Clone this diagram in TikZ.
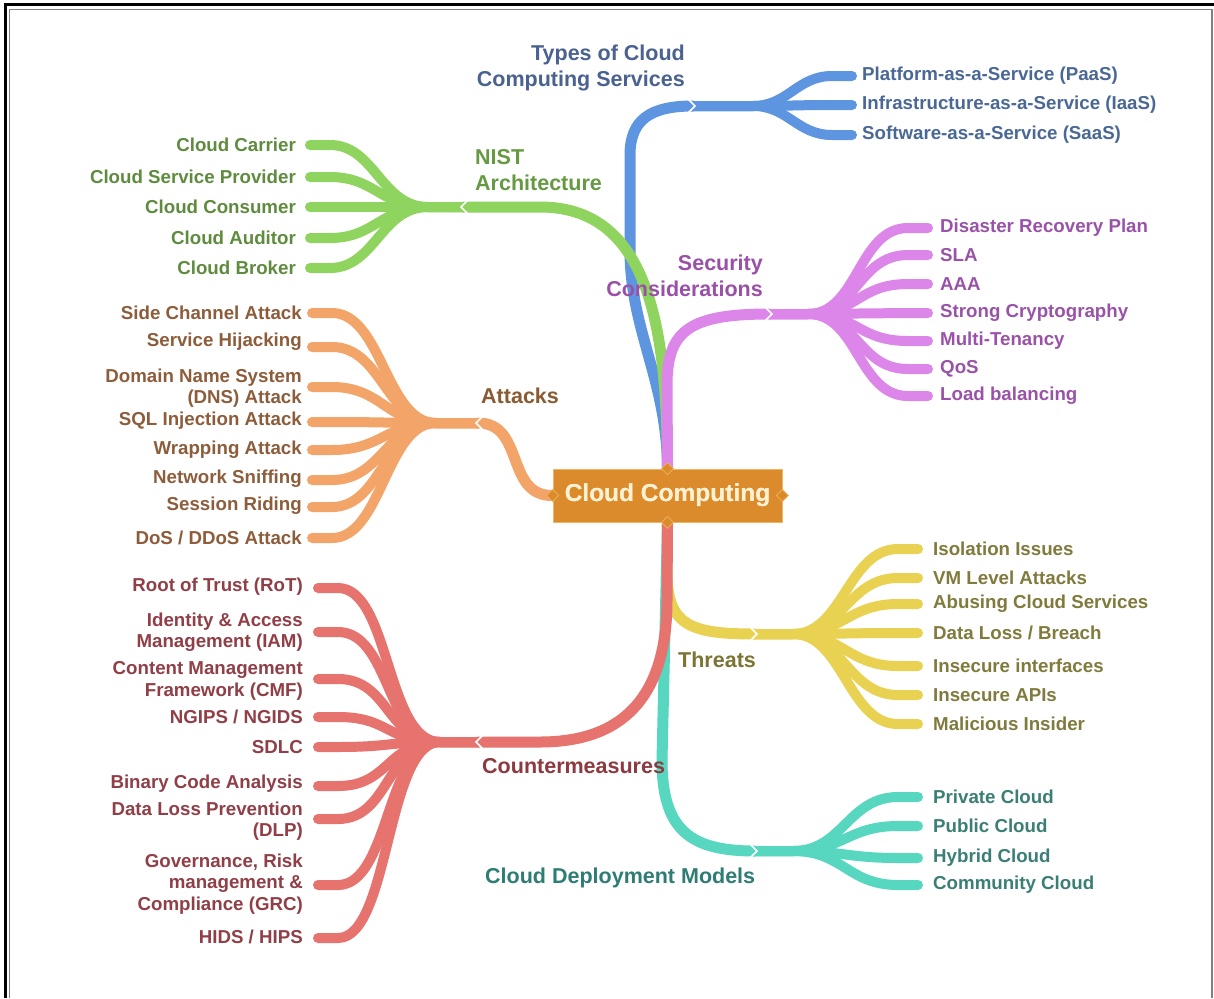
\documentclass[tikz,border=0pt]{standalone}
\usepackage{fontspec}
\setmainfont{Liberation Sans}
\usetikzlibrary{calc}
\pgfdeclarelayer{bg}
\pgfsetlayers{bg,main}
\definecolor{cBlue}{HTML}{5E95E0}\definecolor{tBlue}{HTML}{4A6896}\definecolor{hBlue}{HTML}{4A6290}
\definecolor{cGreen}{HTML}{8ED45E}\definecolor{tGreen}{HTML}{5E8B3E}\definecolor{hGreen}{HTML}{669A42}
\definecolor{cPurple}{HTML}{DD86EA}\definecolor{tPurple}{HTML}{9A52A9}\definecolor{hPurple}{HTML}{9A50A8}
\definecolor{cOrange}{HTML}{F3A468}\definecolor{tOrange}{HTML}{8D5D3B}\definecolor{hOrange}{HTML}{8A5A32}
\definecolor{cRed}{HTML}{E7736F}\definecolor{tRed}{HTML}{903F47}\definecolor{hRed}{HTML}{8C3A40}
\definecolor{cYellow}{HTML}{E9D251}\definecolor{tYellow}{HTML}{807A3D}\definecolor{hYellow}{HTML}{7D7434}
\definecolor{cTeal}{HTML}{57D7BF}\definecolor{tTeal}{HTML}{3A7E76}\definecolor{hTeal}{HTML}{2E7D74}
\definecolor{cCenter}{HTML}{DB8B2B}\definecolor{cCenterB}{HTML}{EFB560}\definecolor{cCenterT}{HTML}{FFF1D2}
\begin{document}
\begin{tikzpicture}[x=1pt,y=-1pt,
  branch/.style={line width=11pt, line cap=round},
  subbranch/.style={line width=10pt, line cap=round, line join=round},
  leaf/.style={inner sep=0pt, font=\fontsize{18.7}{21.5}\selectfont\bfseries},
  topic/.style={inner sep=0pt, font=\fontsize{21.5}{26}\selectfont\bfseries},
  notchline/.style={draw=white, line width=1.6pt},
]
\useasboundingbox (0,0) rectangle (1214,998);
\begin{pgfonlayer}{bg}
\fill[white] (0,0) rectangle (1214,998);
\end{pgfonlayer}
% frame
\draw[line width=3pt] (5,998) -- (5,5) -- (1214,5);
\draw[gray, line width=1.5pt] (9.5,998) -- (9.5,9.5) -- (1212,9.5) -- (1212,998);

% central node
\node[fill=cCenter, draw=cCenterB, line width=0.8pt, minimum width=229pt, minimum height=53pt,
      inner sep=0pt, text=cCenterT, font=\fontsize{24.5}{28}\selectfont\bfseries] (cc) at (667.5,495.5) {Cloud Computing};
\foreach \a in {north,south,west,east}{
  \fill[cCenter, draw=cCenterB, line width=0.6pt] ($(cc.\a)+(-6,0)$) -- ($(cc.\a)+(0,-6)$) -- ($(cc.\a)+(6,0)$) -- ($(cc.\a)+(0,6)$) -- cycle;
}
\node[text=cCenterT, font=\fontsize{24.5}{28}\selectfont\bfseries, inner sep=0pt] (cctext) at (cc.center) {Cloud Computing};

% notch coordinates
\coordinate (typesN) at (693,106);
\coordinate (nistN) at (463,207);
\coordinate (secN) at (770,314);
\coordinate (attN) at (478,423);
\coordinate (cmN) at (478,742);
\coordinate (thrN) at (755,634);
\coordinate (depN) at (755,851);

\begin{pgfonlayer}{bg}
% ---- Types of cloud computing services (blue)
\draw[branch, cBlue] (cc.north) .. controls (667,380) and (630,330) .. (630,250) -- (630,155) .. controls (630,120) and (650,106) .. (typesN);
\foreach \y [count=\i] in {76,105,135}{
  \coordinate (types-e\i) at (852,\y);
  \draw[subbranch, cBlue] (typesN) -- ($(typesN)+(60,0)$) .. controls ($(typesN)+(95,0)$) and ($(types-e\i)+(-55,0)$) .. ($(types-e\i)+(-20,0)$) -- (types-e\i);
}
% ---- NIST (green)
\draw[branch, cGreen] (cc.north) .. controls (667,330) and (650,207) .. (540,207) -- (nistN);
\foreach \y [count=\i] in {145,177,207,238,268}{
  \coordinate (nist-e\i) at (310,\y);
  \draw[subbranch, cGreen] (nistN) -- ($(nistN)+(-35,0)$) .. controls ($(nistN)+(-82,0)$) and ($(nist-e\i)+(65,0)$) .. ($(nist-e\i)+(20,0)$) -- (nist-e\i);
}
% ---- Security considerations (purple)
\draw[branch, cPurple] (cc.north) -- (667,385) .. controls (667,330) and (690,314) .. (secN);
\foreach \y [count=\i] in {228,255,284,313,341,369,396}{
  \coordinate (sec-e\i) at (928,\y);
  \draw[subbranch, cPurple] (secN) -- ($(secN)+(38,0)$) .. controls ($(secN)+(88,0)$) and ($(sec-e\i)+(-70,0)$) .. ($(sec-e\i)+(-20,0)$) -- (sec-e\i);
}
% ---- Attacks (orange)
\draw[branch, cOrange] (cc.west) .. controls (505,496) and (525,423) .. (attN);
\foreach \y [count=\i] in {313,347,387,422,450,480,507,538}{
  \coordinate (att-e\i) at (312,\y);
  \draw[subbranch, cOrange] (attN) -- ($(attN)+(-42,0)$) .. controls ($(attN)+(-92,0)$) and ($(att-e\i)+(70,0)$) .. ($(att-e\i)+(20,0)$) -- (att-e\i);
}
% ---- Threats (yellow)
\draw[branch, cYellow] (cc.south) -- (667,575) .. controls (668,625) and (690,634) .. (thrN);
\foreach \y [count=\i] in {549,578,604,633,666,695,724}{
  \coordinate (thr-e\i) at (918,\y);
  \draw[subbranch, cYellow] (thrN) -- ($(thrN)+(38,0)$) .. controls ($(thrN)+(88,0)$) and ($(thr-e\i)+(-70,0)$) .. ($(thr-e\i)+(-20,0)$) -- (thr-e\i);
}
% ---- Deployment (teal)
\draw[branch, cTeal] (cc.south) -- (662,760) .. controls (662,830) and (690,851) .. (depN);
\foreach \y [count=\i] in {797,826,858,885}{
  \coordinate (dep-e\i) at (918,\y);
  \draw[subbranch, cTeal] (depN) -- ($(depN)+(38,0)$) .. controls ($(depN)+(88,0)$) and ($(dep-e\i)+(-70,0)$) .. ($(dep-e\i)+(-20,0)$) -- (dep-e\i);
}
% ---- Countermeasures (red)
\draw[branch, cRed] (cc.south) -- (667,600) .. controls (667,700) and (620,742) .. (540,742) -- (cmN);
\foreach \y [count=\i] in {588,632,679,717,747,786,819,885,938}{
  \coordinate (cm-e\i) at (318,\y);
  \draw[subbranch, cRed] (cmN) -- ($(cmN)+(-38,0)$) .. controls ($(cmN)+(-92,0)$) and ($(cm-e\i)+(72,0)$) .. ($(cm-e\i)+(20,0)$) -- (cm-e\i);
}
% notches
\foreach \n in {typesN,secN,thrN,depN}{
  \draw[notchline] ($(\n)+(-5,-7)$) -- ($(\n)+(2,0)$) -- ($(\n)+(-5,7)$);
}
\foreach \n in {nistN,attN,cmN}{
  \draw[notchline] ($(\n)+(5,-7)$) -- ($(\n)+(-2,0)$) -- ($(\n)+(5,7)$);
}
\end{pgfonlayer}

% topic labels
\node[topic, text=hBlue, anchor=east, align=right] (typesL) at (685,68) {Types of Cloud\\Computing Services};
\node[topic, text=hGreen, anchor=west, align=left] (nistL) at (475,170) {NIST\\Architecture};
\node[topic, text=hPurple, anchor=east, align=right] (secL) at (763,276) {Security\\Considerations};
\node[topic, text=hOrange, anchor=west] (attL) at (481,396) {Attacks};
\node[topic, text=hRed, anchor=west] (cmL) at (482,766) {Countermeasures};
\node[topic, text=hYellow, anchor=west] (thrL) at (678,660) {Threats};
\node[topic, text=hTeal, anchor=west] (depL) at (485,878) {Cloud Deployment Models};

% leaf labels
\foreach \y/\t [count=\i] in {76/{Platform-as-a-Service (PaaS)},105/{Infrastructure-as-a-Service (IaaS)},135/{Software-as-a-Service (SaaS)}}{
  \node[leaf, text=tBlue, anchor=west] (types\i) at (862,\y) {\t};
}
\foreach \y/\t [count=\i] in {145/{Cloud Carrier},177/{Cloud Service Provider},207/{Cloud Consumer},238/{Cloud Auditor},268/{Cloud Broker}}{
  \node[leaf, text=tGreen, anchor=east] (nist\i) at (296,\y) {\t};
}
\foreach \y/\t [count=\i] in {228/{Disaster Recovery Plan},255/{SLA},284/{AAA},313/{Strong Cryptography},341/{Multi-Tenancy},369/{QoS},396/{Load balancing}}{
  \node[leaf, text=tPurple, anchor=west] (sec\i) at (940,\y) {\t};
}
\foreach \y/\t [count=\i] in {313/{Side Channel Attack},342/{Service Hijacking},388/{Domain Name System\\(DNS) Attack},421/{SQL Injection Attack},450/{Wrapping Attack},479/{Network Sniffing},506/{Session Riding},538/{DoS / DDoS Attack}}{
  \node[leaf, text=tOrange, anchor=east, align=right] (att\i) at (302,\y) {\t};
}
\foreach \y/\t [count=\i] in {549/{Isolation Issues},578/{VM Level Attacks},604/{Abusing Cloud Services},633/{Data Loss / Breach},666/{Insecure interfaces},695/{Insecure APIs},724/{Malicious Insider}}{
  \node[leaf, text=tYellow, anchor=west] (thr\i) at (933,\y) {\t};
}
\foreach \y/\t [count=\i] in {797/{Private Cloud},826/{Public Cloud},858/{Hybrid Cloud},885/{Community Cloud}}{
  \node[leaf, text=tTeal, anchor=west] (dep\i) at (933,\y) {\t};
}
\foreach \y/\t [count=\i] in {587/{Root of Trust (RoT)},632/{Identity \& Access\\Management (IAM)},681/{Content Management\\Framework (CMF)},717/{NGIPS / NGIDS},747/{SDLC},784/{Binary Code Analysis},821/{Data Loss Prevention\\(DLP)},884/{Governance, Risk\\management \&\\Compliance (GRC)},937/{HIDS / HIPS}}{
  \node[leaf, text=tRed, anchor=east, align=right] (cm\i) at (303,\y) {\t};
}
\end{tikzpicture}
\end{document}
